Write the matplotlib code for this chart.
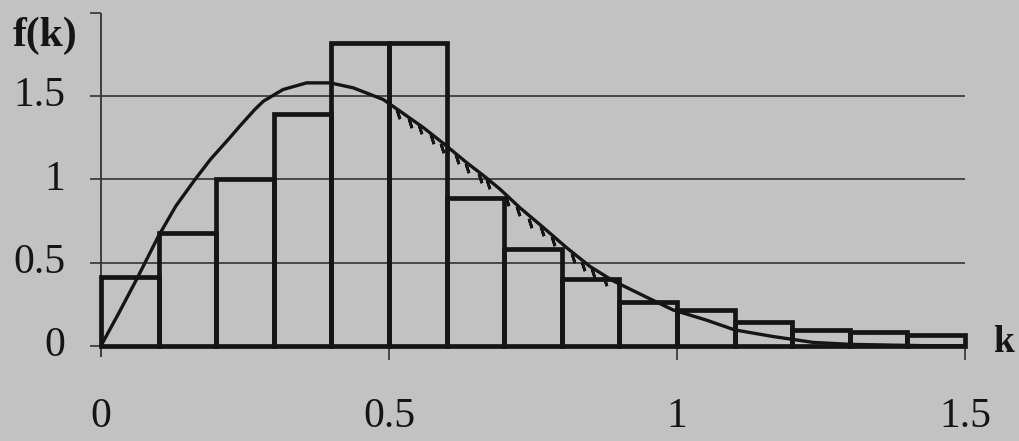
import matplotlib
matplotlib.use("Agg")
import matplotlib.pyplot as plt

# histogram of k (bin width 0.1)
bin_left = [0.0, 0.1, 0.2, 0.3, 0.4, 0.5, 0.6, 0.7, 0.8, 0.9, 1.0, 1.1, 1.2, 1.3, 1.4]
bin_height = [0.41, 0.68, 1.00, 1.39, 1.82, 1.82, 0.89, 0.58, 0.40, 0.26, 0.215, 0.14, 0.095, 0.08, 0.065]

# smooth density curve
curve_k = [0.0, 0.03, 0.062, 0.0995, 0.13, 0.163, 0.19, 0.221, 0.241, 0.267, 0.282,
           0.316, 0.357, 0.398, 0.438, 0.49, 0.519, 0.56, 0.60, 0.635, 0.665, 0.693,
           0.727, 0.768, 0.808, 0.849, 0.889, 0.948, 0.993,
           1.05, 1.10, 1.167, 1.236, 1.30, 1.43, 1.50]
curve_f = [0.0, 0.19, 0.40, 0.657, 0.84, 0.998, 1.12, 1.24, 1.32, 1.42, 1.47,
           1.54, 1.58, 1.58, 1.55, 1.48, 1.41, 1.31, 1.20, 1.10, 1.02, 0.94,
           0.83, 0.71, 0.59, 0.476, 0.39, 0.29, 0.215,
           0.155, 0.095, 0.055, 0.02, 0.008, 0.0, 0.0]

# saw-tooth marks hanging from the curve between 0.5 and 0.9
mark_k = [0.515, 0.536, 0.554, 0.575, 0.592, 0.618, 0.635, 0.658, 0.672, 0.705,
          0.724, 0.745, 0.766, 0.785, 0.819, 0.837, 0.854, 0.875]
mark_f = [1.42, 1.37, 1.33, 1.27, 1.22, 1.15, 1.10, 1.04, 1.00, 0.90,
          0.84, 0.77, 0.72, 0.66, 0.56, 0.51, 0.465, 0.42]

grid_y = [0, 0.5, 1, 1.5]
ytick_labels = ["0", "0.5", "1", "1.5"]
xtick_vals = [0, 0.5, 1, 1.5]
xtick_labels = ["0", "0.5", "1", "1.5"]

bg = "#c2c2c2"
ink = "#151515"
serif = ["Liberation Serif", "DejaVu Serif"]

fig = plt.figure(figsize=(10.19, 4.41), dpi=100, facecolor=bg)
ax = fig.add_axes([0.0991, 0.2161, 0.848, 0.7544])
ax.set_facecolor(bg)
ax.set_xlim(0, 1.5)
ax.set_ylim(0, 2.0)
ax.axis("off")

# grid lines and axes
ax.hlines(grid_y, -0.019, 1.5, color="#333333", lw=1.2, clip_on=False)
ax.hlines([2.0], -0.019, 0, color="#333333", lw=1.2, clip_on=False)
ax.vlines([0], -0.07, 2.0, color="#333333", lw=1.3, clip_on=False)
ax.vlines(xtick_vals[1:], -0.085, 0, color="#333333", lw=1.2, clip_on=False)

ax.bar(bin_left, bin_height, width=0.1, align="edge", fill=False,
       edgecolor=ink, lw=3.4, clip_on=False, zorder=3)

ax.plot(curve_k, curve_f, color=ink, lw=2.4, clip_on=False, zorder=4)
ax.plot(mark_k, [f - 0.03 for f in mark_f], ls="none", marker=(2, 2, 18),
        ms=7, mew=2.0, color=ink, zorder=4)

for y, lab in zip(grid_y, ytick_labels):
    ax.text(-0.062, y, lab, ha="right", va="center", fontsize=30,
            family=serif, color=ink)
for x, lab in zip(xtick_vals, xtick_labels):
    ax.text(x, -0.43, lab, ha="center", va="center", fontsize=30,
            family=serif, color=ink)

ax.text(-0.153, 1.866, "f(k)", ha="left", va="center", fontsize=30,
        fontweight="bold", family=serif, color=ink)
ax.text(1.549, 0.02, "k", ha="left", va="center", fontsize=27,
        fontweight="bold", family=serif, color=ink)

fig.savefig("out.png", dpi=100, facecolor=bg)
